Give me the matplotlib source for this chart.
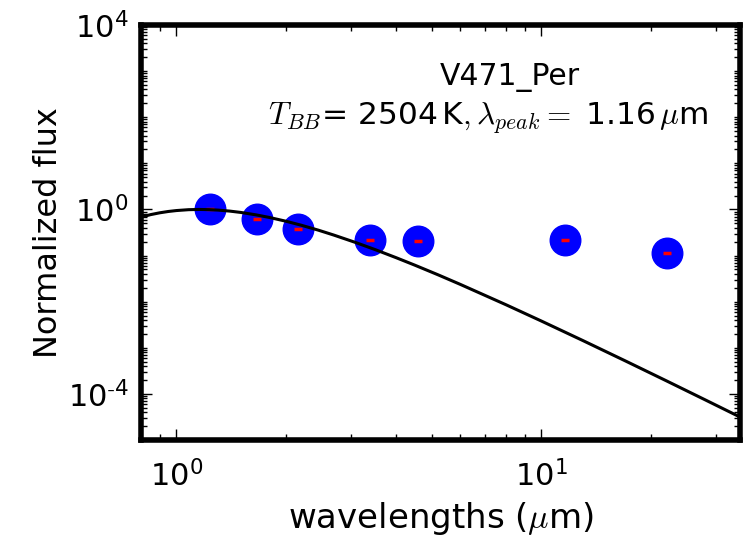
import numpy as np
import matplotlib
matplotlib.use('Agg')
import matplotlib.pyplot as plt
from matplotlib.ticker import LogLocator, FixedLocator, FixedFormatter, NullFormatter

plt.rcParams['mathtext.fontset'] = 'cm'
plt.rcParams['font.family'] = ['DejaVu Sans']

# photometry (2MASS + WISE), normalized
wave = [1.235, 1.662, 2.159, 3.4, 4.6, 11.6, 22.1]
flux = [1.0, 0.63, 0.38, 0.215, 0.205, 0.22, 0.111]

# blackbody curve
bb_wave = [0.78, 0.85, 0.9, 0.95, 1.0, 1.08, 1.157, 1.23, 1.3, 1.4, 1.5, 1.65,
           1.8, 2.0, 2.2, 2.45, 2.7, 3.1, 3.5, 4.0, 4.5, 5.2, 6.0, 8.0, 10.0,
           13.0, 17.0, 22.0, 28.0, 35.0]
bb_flux = [0.646, 0.772, 0.845, 0.903, 0.946, 0.988, 1.0, 0.990, 0.968, 0.921,
           0.862, 0.765, 0.669, 0.553, 0.454, 0.355, 0.278, 0.1916, 0.135,
           0.0899, 0.0619, 0.0385, 0.02364, 8.57e-3, 3.80e-3, 1.43e-3,
           5.17e-4, 1.92e-4, 7.53e-5, 3.15e-5]

star = 'V471_Per'
t_bb = 2504
lam_peak = 1.16

yticks = [1e-4, 1e0, 1e4]
ylabels = [r'$\mathdefault{10^{\text{-}4}}$', r'$\mathdefault{10^{0}}$', r'$\mathdefault{10^{4}}$']

W, H = 749, 536
fig = plt.figure(figsize=(W / 100, H / 100), dpi=100)
ax = fig.add_axes([141 / W, (H - 440) / H, (740 - 141) / W, (440 - 25) / H])

ax.plot(wave, flux, 'o', color='blue', ms=22, mec='blue', zorder=2)
ax.plot(wave, flux, '_', color='red', ms=6, mew=2.5, zorder=3)
ax.plot(bb_wave, bb_flux, '-', color='black', lw=2.2, zorder=4)

ax.set_xscale('log')
ax.set_yscale('log')
ax.set_xlim(0.8, 35)
ax.set_ylim(1e-5, 1e4)

ax.yaxis.set_major_locator(FixedLocator(yticks))
ax.yaxis.set_major_formatter(FixedFormatter(ylabels))
ax.yaxis.set_minor_locator(LogLocator(base=10, subs=np.arange(1, 10), numticks=100))
ax.yaxis.set_minor_formatter(NullFormatter())
ax.xaxis.set_minor_locator(LogLocator(base=10, subs=np.arange(2, 10), numticks=100))
ax.xaxis.set_minor_formatter(NullFormatter())

for s in ax.spines.values():
    s.set_linewidth(4)
ax.tick_params(which='both', direction='in', top=True, right=True)
ax.tick_params(which='major', length=8, width=1, labelsize=22)
ax.tick_params(axis='x', which='major', pad=14)
ax.tick_params(axis='y', which='major', pad=9)
ax.tick_params(which='minor', length=4, width=1)

ax.set_xlabel(r'wavelengths ($\mu$m)', fontsize=24.5, labelpad=6)
ax.set_ylabel('Normalized flux', fontsize=23, labelpad=3)

fig.text(510 / W, 1 - 77 / H, star, fontsize=21.5, ha='center', va='center')
fig.text(488 / W, 1 - 118 / H,
         r'$T_{BB}$= %d$\,$K$,\lambda_{peak}=$ %.2f$\,\mu$m' % (t_bb, lam_peak),
         fontsize=22.5, ha='center', va='center')

fig.savefig('out.png', dpi=100)
